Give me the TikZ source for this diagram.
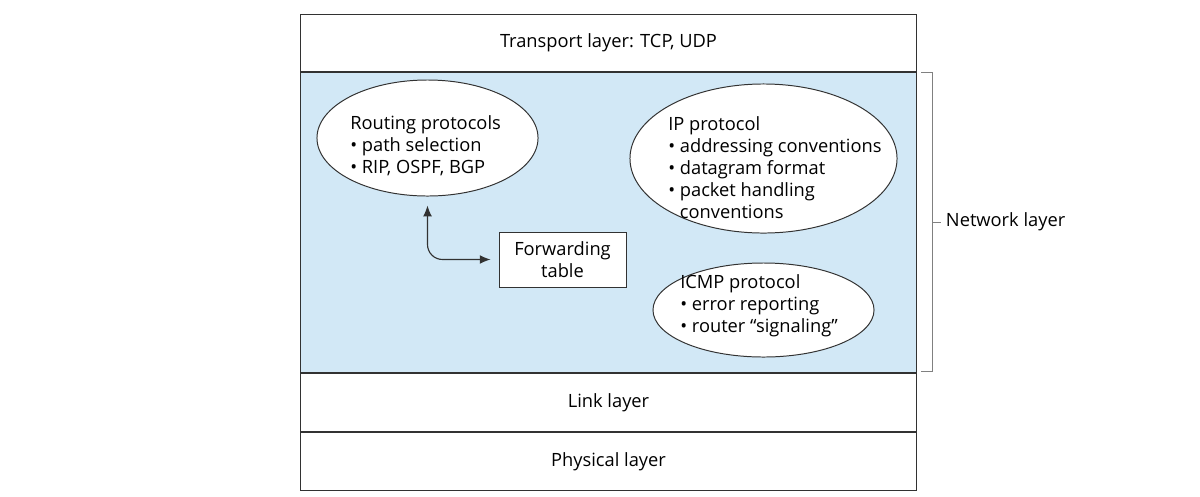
\documentclass[tikz,border=0pt]{standalone}
\usepackage{fontspec}
\setmainfont{Open Sans}
\usetikzlibrary{positioning,shapes.geometric,arrows.meta}
\definecolor{netblue}{RGB}{210,232,246}
\definecolor{edgegray}{RGB}{50,50,50}
\begin{document}
\begin{tikzpicture}[
  x=0.025cm, y=-0.025cm,
  layer/.style={rectangle, draw=edgegray, line width=0.6pt, minimum width=15.4cm, inner sep=0pt},
  proto/.style={ellipse, draw=edgegray, line width=0.7pt, fill=white, inner sep=0pt},
  prototext/.style={anchor=west, align=left, inner sep=0pt},
  font=\fontsize{13}{15.6}\selectfont,
  >={Latex[length=0.27cm,width=0.22cm]}
]
\useasboundingbox (0,0) rectangle (1200,496);

\node[layer, anchor=north west, minimum height=1.42cm] (transport) at (300,14) {Transport layer: TCP, UDP};
\node[layer, below=0pt of transport, minimum height=7.5cm, fill=netblue] (network) {};
\node[layer, below=0pt of network, minimum height=1.47cm] (link) {Link layer};
\node[layer, below=0pt of link, minimum height=1.45cm] (physical) {Physical layer};

\node[proto, minimum width=5.525cm, minimum height=2.9cm] (routing) at (427.5,138) {};
\node[prototext] (routingtext) at (350,146) {Routing protocols\\\textbullet\ path selection\\\textbullet\ RIP, OSPF, BGP};
\node[proto, minimum width=6.675cm, minimum height=3.725cm] (ip) at (763.5,158.5) {};
\node[prototext] (iptext) at (668,168) {IP protocol\\\textbullet\ addressing conventions\\\textbullet\ datagram format\\\textbullet\ packet handling\\\phantom{\textbullet\ }conventions};
\node[proto, minimum width=5.525cm, minimum height=2.35cm] (icmp) at (763.5,310) {};
\node[prototext] (icmptext) at (680,306) {ICMP protocol\\\textbullet\ error reporting\\\textbullet\ router ``signaling''};
\node[rectangle, draw=edgegray, line width=0.6pt, fill=white, minimum width=3.175cm, minimum height=1.375cm, align=center] (fwd) at (562.5,259.5) {Forwarding\\table};

\coordinate (rtip) at ([yshift=-0.225cm]routing.south);
\draw[<->, line width=0.8pt, edgegray, rounded corners=0.375cm] (rtip) |- ([xshift=-0.2cm]fwd.west);

% bracket for the network layer
\coordinate (btop) at ([xshift=0.1cm, yshift=-0.025cm]network.north east);
\coordinate (bbot) at ([xshift=0.1cm, yshift=0.025cm]network.south east);
\draw[gray, line width=0.6pt] (btop) -- ++(0.275cm,0) |- (bbot);
\node[anchor=west] (netlabel) at ([xshift=0.6cm]network.east) {Network layer};
\draw[gray, line width=0.6pt] ([xshift=0.375cm]network.east) -- (netlabel.west);
\end{tikzpicture}
\end{document}
